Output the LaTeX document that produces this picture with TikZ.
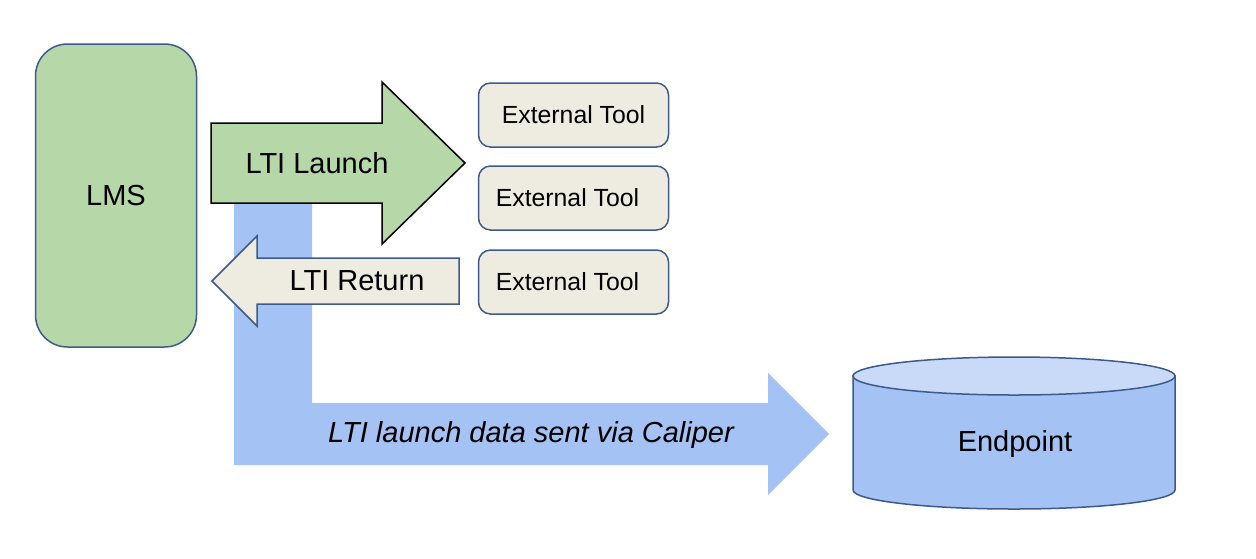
\documentclass[tikz,border=0pt]{standalone}
\usepackage{fontspec}
\setmainfont{Liberation Sans}
\definecolor{lmsgreen}{HTML}{B6D7A8}
\definecolor{toolbeige}{HTML}{EEECE1}
\definecolor{caliperblue}{HTML}{A4C2F4}
\definecolor{toplight}{HTML}{C9DAF8}
\definecolor{edgeblue}{HTML}{3D5A8A}
\tikzset{
  bigtext/.style={font=\fontsize{14.5}{17}\selectfont},
  tooltext/.style={font=\fontsize{12.4}{15}\selectfont},
  toolbox/.style={draw=edgeblue, line width=0.75pt, fill=toolbeige, rounded corners=6pt,
    minimum width=95pt, minimum height=32pt, tooltext},
}
\begin{document}
\begin{tikzpicture}[x=0.5pt, y=-0.5pt]
\useasboundingbox (0,0) rectangle (1256,558);

% caliper arrow (behind the others)
\fill[caliperblue] (234,195) -- (312,195) -- (312,403) -- (768,403) -- (768,373)
  -- (829,434) -- (768,495) -- (768,465) -- (234,465) -- cycle;
\node[font=\fontsize{14.5}{17}\selectfont\itshape] (caliper) at (531,435) {LTI launch data sent via Caliper};

\node[draw=edgeblue, line width=0.75pt, fill=lmsgreen, rounded corners=16pt,
  minimum width=80.5pt, minimum height=151.5pt, bigtext] (lms) at (116,195.5) {LMS};

% launch / return
\draw[line width=0.75pt, fill=lmsgreen] (211,123) -- (382,123) -- (382,82) -- (465,163)
  -- (382,244) -- (382,203) -- (211,203) -- cycle;
\node[bigtext] (launch) at (317,163) {LTI Launch};

\draw[draw=edgeblue, line width=0.75pt, fill=toolbeige] (459,258) -- (257,258) -- (257,236)
  -- (212,281) -- (257,326) -- (257,304) -- (459,304) -- cycle;
\node[bigtext] (return) at (357,281) {LTI Return};

\node[toolbox] (tool1) at (573.5,115) {External Tool};
\node[toolbox] (tool2) at (573.5,198) {External Tool\hspace*{6pt}};
\node[toolbox] (tool3) at (573.5,282) {External Tool\hspace*{6pt}};

% endpoint
\draw[draw=edgeblue, line width=0.75pt, fill=caliperblue] (853,376) -- (853,490)
  arc[start angle=180, end angle=360, x radius=80.5pt, y radius=9.5pt] -- (1175,376) -- cycle;
\draw[draw=edgeblue, line width=0.75pt, fill=toplight] (1014,376) ellipse [x radius=80.5pt, y radius=9.5pt];
\node[bigtext] (endpoint) at (1015,444) {Endpoint};

\end{tikzpicture}
\end{document}
